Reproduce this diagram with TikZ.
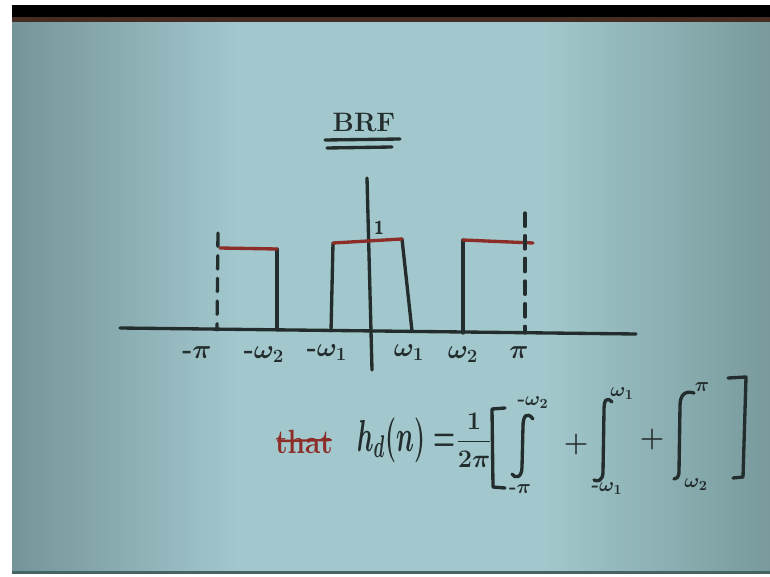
\RequirePackage{fix-cm}
\documentclass[tikz,border=0pt]{standalone}
\usepackage{graphicx}
\definecolor{boardL}{RGB}{116,148,153}
\definecolor{boardM}{RGB}{162,200,205}
\definecolor{boardR}{RGB}{120,154,156}
\definecolor{inkc}{RGB}{35,45,45}
\definecolor{redc}{RGB}{140,45,40}
\definecolor{brownc}{RGB}{70,45,35}
\definecolor{edgec}{RGB}{70,100,100}
\pgfdeclarehorizontalshading{boardshade}{100bp}{color(0bp)=(boardL); color(25bp)=(boardL); color(40bp)=(boardM); color(60bp)=(boardM); color(75bp)=(boardR); color(100bp)=(boardR)}
\begin{document}
\begin{tikzpicture}[x=0.75pt,y=-0.75pt,
  ink/.style={line width=2.5pt,draw=inkc,line cap=round,line join=round},
  redink/.style={line width=2.5pt,draw=redc,line cap=round},
  dashink/.style={ink,dash pattern=on 10pt off 7pt},
  lbl/.style={text=inkc,inner sep=0pt,font=\fontsize{20}{20}\selectfont\bfseries\boldmath},
  lim/.style={text=inkc,inner sep=0pt,font=\fontsize{15}{15}\selectfont\bfseries\boldmath},
  big/.style={text=inkc,inner sep=0pt,font=\fontsize{21}{21}\selectfont\bfseries\boldmath}]
\useasboundingbox (0,0) rectangle (770,577);
\fill[white] (0,0) rectangle (770,577);
\shade[shading=boardshade] (12,22) rectangle (770,572);
\fill[black] (12,5) rectangle (770,17);
\fill[brownc] (12,17) rectangle (770,22);
\fill[edgec] (12,571) rectangle (770,574);

% title
\node[lbl] (title) at (364,123) {BRF};
\coordinate (u1a) at (325,140); \coordinate (u1b) at (400,139);
\coordinate (u2a) at (327,148); \coordinate (u2b) at (392,147);
\draw[ink] (u1a) -- (u1b);
\draw[ink] (u2a) -- (u2b);

% axes
\coordinate (xl) at (120,328); \coordinate (xr) at (636,334);
\coordinate (yt) at (367,178); \coordinate (yb) at (372,370);
\draw[ink] (xl) -- (xr);
\draw[ink] (yt) -- (yb);

% left band
\coordinate (lpd) at (218,233); \coordinate (lpb) at (217,330);
\coordinate (l1) at (220,248); \coordinate (l2) at (277,249); \coordinate (l3) at (277,330);
\draw[dashink] (lpd) -- (lpb);
\draw[ink] (l2) -- (l3);
\draw[redink] (l1) -- (l2);

% middle band
\coordinate (m0) at (331,331); \coordinate (m1) at (333,243);
\coordinate (m2) at (402,239); \coordinate (m3) at (412,331);
\draw[ink] (m0) -- (m1);
\draw[ink] (m2) -- (m3);
\draw[redink] (m1) -- (m2);
\node[lbl,font=\fontsize{14}{14}\sffamily\bfseries] (one) at (379,228) {1};

% right band
\coordinate (r0) at (463,333); \coordinate (r1) at (463,240);
\coordinate (r2) at (533,243);
\coordinate (rpd) at (525,213); \coordinate (rpb) at (525,333);
\draw[ink] (r0) -- (r1);
\draw[redink] (r1) -- (r2);
\draw[dashink] (rpd) -- (rpb);

% axis labels
\node[lbl] (mpi) at (197,353) {-$\pi$};
\node[lbl] (mw2) at (264,355) {-$\omega_2$};
\node[lbl] (mw1) at (327,353) {-$\omega_1$};
\node[lbl] (w1) at (409,353) {$\omega_1$};
\node[lbl] (w2) at (463,355) {$\omega_2$};
\node[lbl] (pi) at (519,353) {$\pi$};

% formula
\node[big,text=redc] (that) at (304,442) {\scalebox{1}[1.2]{that}};
\coordinate (sa) at (278,441); \coordinate (sb) at (331,440);
\draw[redink,line width=1.8pt] (sa) -- (sb);
\node[big] (hd) at (406,440) {\scalebox{0.9}[1.6]{$h_d(n)=$}};
\node[big,font=\fontsize{19}{19}\selectfont\bfseries\boldmath] (frac) at (474,440) {$\displaystyle\frac{1}{2\pi}$};

% left bracket
\coordinate (b1) at (505,408); \coordinate (b2) at (492,409);
\coordinate (b3) at (493,487); \coordinate (b4) at (505,488);
\draw[ink] (b1) -- (b2) -- (b3) -- (b4);

% integral 1
\coordinate (i1t) at (533,419); \coordinate (i1b) at (512,474);
\draw[ink] (i1t) .. controls (527,411) and (523,416) .. (523,426) -- (522,467) .. controls (522,478) and (515,479) .. (i1b);
\node[lim] (i1u) at (533,403) {-$\omega_2$};
\node[lim] (i1l) at (520,489) {-$\pi$};

\node[big] (plus1) at (576,445) {+};

% integral 2
\coordinate (i2t) at (612,402); \coordinate (i2b) at (594,480);
\draw[ink] (i2t) .. controls (606,396) and (604,401) .. (604,410) -- (603,472) .. controls (603,481) and (597,482) .. (i2b);
\node[lim] (i2u) at (622,394) {$\omega_1$};
\node[lim] (i2l) at (607,489) {-$\omega_1$};

\node[big] (plus2) at (652,440) {+};

% integral 3
\coordinate (i3t) at (694,393); \coordinate (i3b) at (674,479);
\draw[ink] (i3t) .. controls (684,390) and (680,396) .. (680,406) -- (679,471) .. controls (679,478) and (676,479) .. (i3b);
\node[lim] (i3u) at (702,387) {$\pi$};
\node[lim] (i3l) at (696,485) {$\omega_2$};

% right bracket
\coordinate (c1) at (728,378); \coordinate (c2) at (746,377);
\coordinate (c3) at (743,477); \coordinate (c4) at (733,478);
\draw[ink] (c1) -- (c2) -- (c3) -- (c4);
\end{tikzpicture}
\end{document}
